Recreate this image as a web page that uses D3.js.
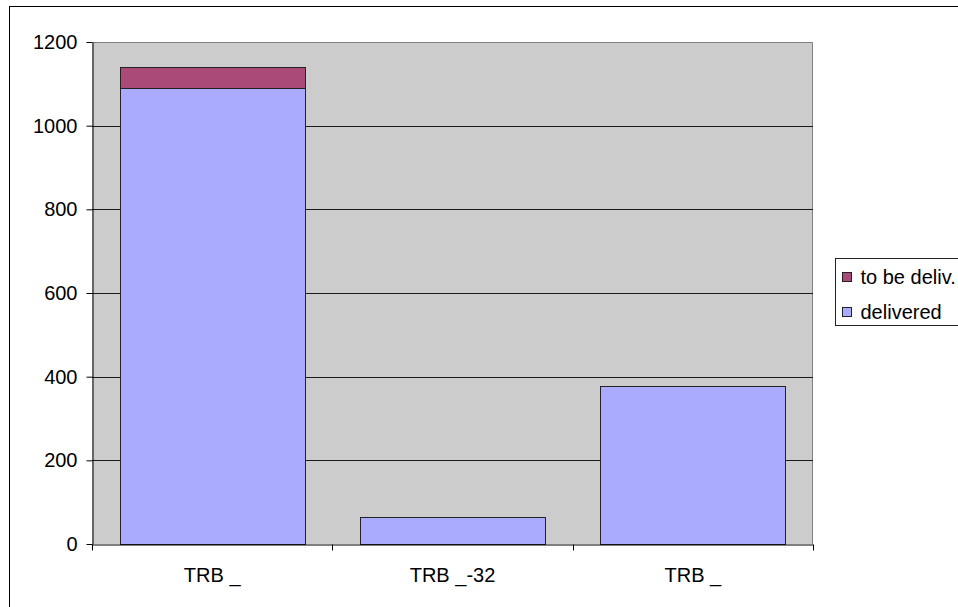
<!DOCTYPE html>
<html>
<head>
<meta charset="utf-8">
<script src="https://cdn.jsdelivr.net/npm/d3@7"></script>
<style>
  body { margin: 0; background: #fff; }
  text { font-family: Arial, "Liberation Sans", sans-serif; fill: #000; }
</style>
</head>
<body>
<div id="chart"></div>
<script>
// chart data
const categories = ['TRB _', 'TRB _-32', 'TRB _'];
const delivered = [1089, 65, 378];
const toBeDelivered = [52, 0, 0];
const seriesNames = ['delivered', 'to be deliv.'];
const yTicks = [0, 200, 400, 600, 800, 1000, 1200];

const colors = { 'delivered': '#aaaaff', 'to be deliv.': '#a94a78' };

const svgWidth = 958;
const svgHeight = 607;
const margin = { top: 42, right: 145, bottom: 63, left: 92 };
const width = svgWidth - margin.left - margin.right;
const height = svgHeight - margin.top - margin.bottom;
const fontSize = 20;

const svg = d3.select('#chart')
  .append('svg')
  .attr('width', svgWidth)
  .attr('height', svgHeight);

// outer chart border (cut off at right/bottom like the source)
svg.append('rect')
  .attr('x', 9.5).attr('y', 6.5)
  .attr('width', svgWidth).attr('height', svgHeight + 10)
  .attr('fill', 'none')
  .attr('stroke', '#000');

const g = svg.append('g')
  .attr('transform', `translate(${margin.left}, ${margin.top})`);

// table for stacking
const rows = categories.map((c, i) => ({
  idx: i,
  'delivered': delivered[i],
  'to be deliv.': toBeDelivered[i]
}));

const stacked = d3.stack().keys(seriesNames)(rows);

const x = d3.scaleBand()
  .domain(d3.range(categories.length))
  .range([0, width])
  .paddingInner(0.23)
  .paddingOuter(0.115);

const y = d3.scaleLinear()
  .domain([0, 1200])
  .range([height, 0]);

// plot background
g.append('rect')
  .attr('width', width)
  .attr('height', height)
  .attr('fill', '#cccccc');

g.append('path')
  .attr('d', `M0.5,0.5H${width - 0.5}V${height}`)
  .attr('fill', 'none')
  .attr('stroke', '#808080');

// gridlines
g.selectAll('line.grid')
  .data(yTicks.filter(t => t > 0 && t < 1200))
  .enter()
  .append('line')
  .attr('class', 'grid')
  .attr('x1', 0)
  .attr('x2', width)
  .attr('y1', d => Math.round(y(d)) + 0.5)
  .attr('y2', d => Math.round(y(d)) + 0.5)
  .attr('stroke', '#1a1a1a');

// bars
const layers = g.selectAll('g.layer')
  .data(stacked)
  .enter()
  .append('g')
  .attr('class', 'layer')
  .attr('fill', d => colors[d.key]);

layers.selectAll('rect')
  .data(d => d.filter(p => p[1] - p[0] > 0))
  .enter()
  .append('rect')
  .attr('x', d => Math.round(x(d.data.idx)) + 0.5)
  .attr('y', d => Math.round(y(d[1])) + 0.5)
  .attr('width', Math.round(x.bandwidth()))
  .attr('height', d => Math.round(y(d[0])) - Math.round(y(d[1])))
  .attr('stroke', '#222')
  .attr('stroke-width', 1);

// y axis
const yAxis = g.append('g')
  .attr('transform', 'translate(0.5,0)')
  .call(d3.axisLeft(y).tickValues(yTicks).tickFormat(d3.format('d'))
    .tickSize(6).tickSizeOuter(0).tickPadding(9));
yAxis.selectAll('text').style('font-size', fontSize + 'px');
yAxis.selectAll('line, path').attr('stroke', '#000');

// x axis: labels at band centres, ticks at band boundaries
const xAxis = g.append('g')
  .attr('transform', `translate(0, ${height + 0.5})`)
  .call(d3.axisBottom(x).tickSize(0).tickSizeOuter(0).tickPadding(23)
    .tickFormat(i => categories[i]));
xAxis.selectAll('text').style('font-size', fontSize + 'px');
xAxis.select('.domain').attr('stroke', '#000');

xAxis.selectAll('line.bound')
  .data(d3.range(categories.length + 1))
  .enter()
  .append('line')
  .attr('class', 'bound')
  .attr('x1', i => Math.round(i * x.step()) + 0.5)
  .attr('x2', i => Math.round(i * x.step()) + 0.5)
  .attr('y1', 0)
  .attr('y2', 6)
  .attr('stroke', '#000');

// legend
const legendItems = seriesNames.slice().reverse();
const legend = svg.append('g')
  .attr('transform', 'translate(835.5, 258.5)');

legend.append('rect')
  .attr('width', 140)
  .attr('height', 67)
  .attr('fill', '#fff')
  .attr('stroke', '#222');

const item = legend.selectAll('g.item')
  .data(legendItems)
  .enter()
  .append('g')
  .attr('class', 'item')
  .attr('transform', (d, i) => `translate(0, ${i * 35})`);

item.append('rect')
  .attr('x', 7)
  .attr('y', 14)
  .attr('width', 9)
  .attr('height', 9)
  .attr('fill', d => colors[d])
  .attr('stroke', '#222');

item.append('text')
  .attr('x', 25)
  .attr('y', 25)
  .style('font-size', fontSize + 'px')
  .text(d => d);
</script>
</body>
</html>
